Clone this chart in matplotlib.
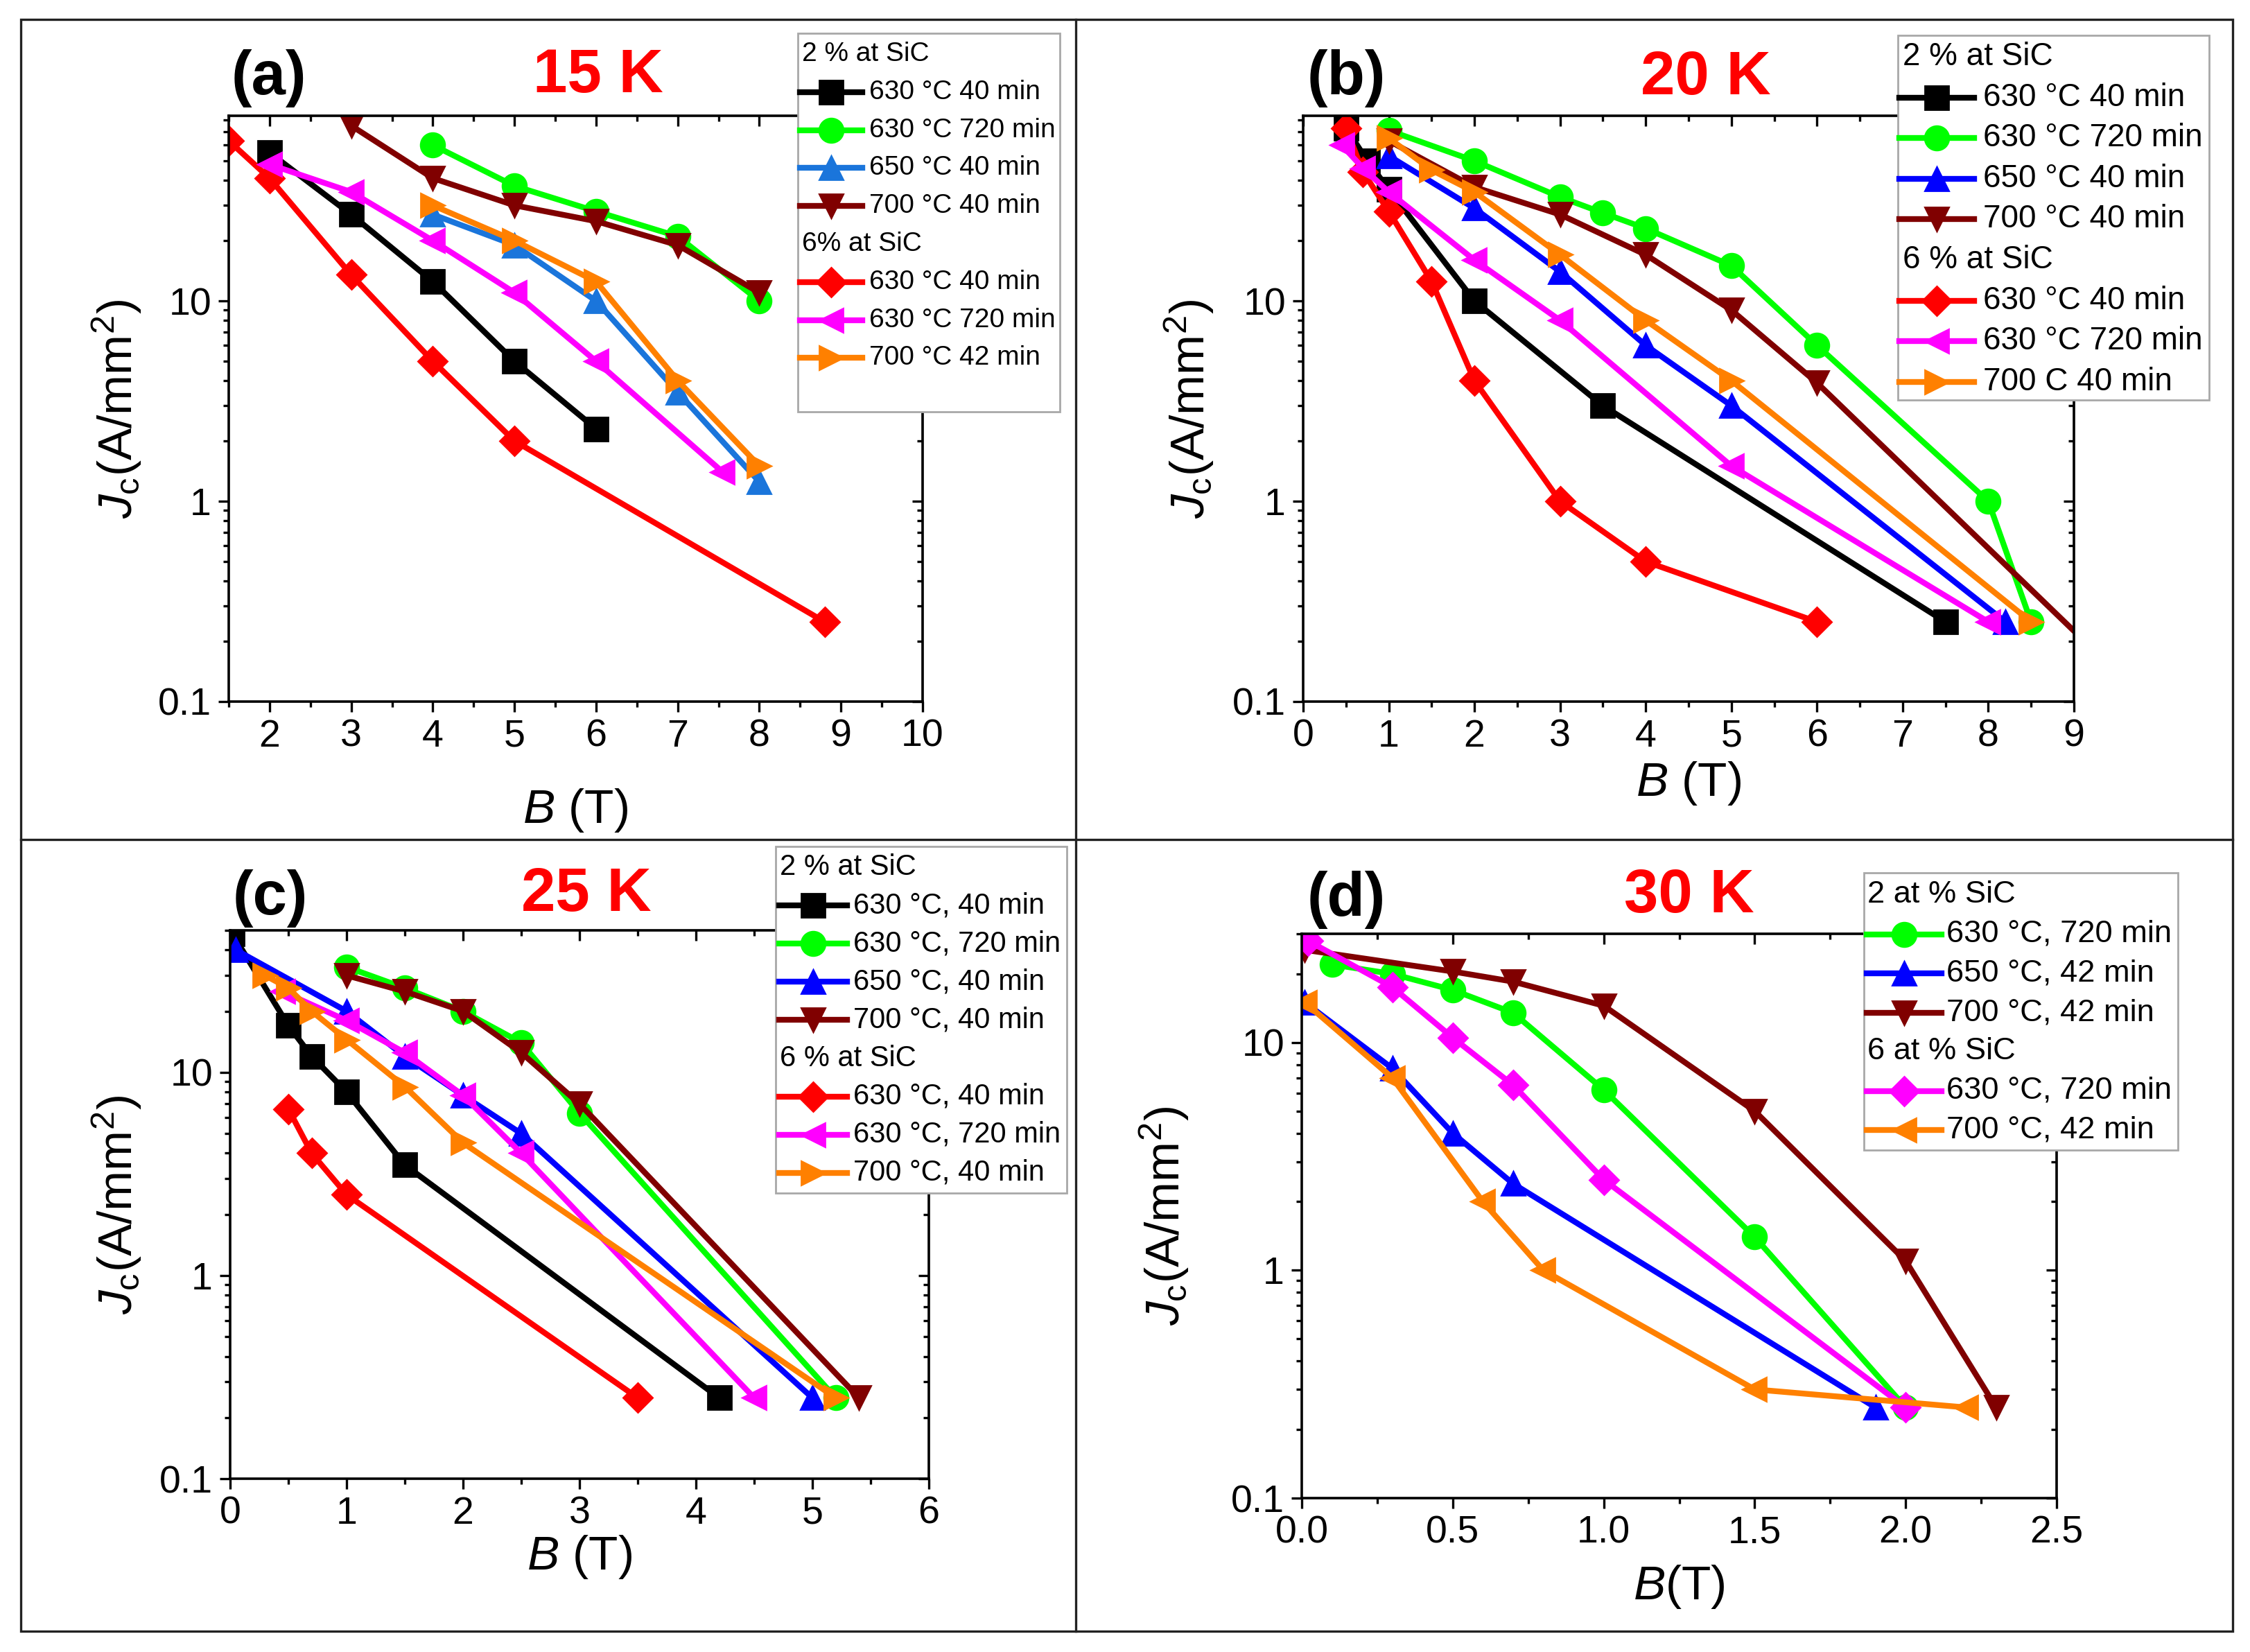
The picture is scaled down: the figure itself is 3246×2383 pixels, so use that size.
import matplotlib
matplotlib.use('Agg')
import matplotlib.pyplot as plt
from matplotlib.lines import Line2D
from matplotlib.patches import Rectangle
from matplotlib.ticker import MultipleLocator, LogLocator, FuncFormatter, NullFormatter

plt.rcParams['font.family'] = ['Liberation Sans', 'DejaVu Sans']
plt.rcParams['mathtext.fontset'] = 'custom'
plt.rcParams['mathtext.rm'] = 'Liberation Sans'
plt.rcParams['mathtext.it'] = 'Liberation Sans:italic'
plt.rcParams['mathtext.bf'] = 'Liberation Sans:bold'

# ---------------- data: Jc (A/mm^2) versus B (T) ----------------
# (a) 15 K
a_630_40_B = [2, 3, 4, 5, 6]
a_630_40_J = [55, 27, 12.5, 5, 2.3]
a_630_720_B = [4, 5, 6, 7, 8]
a_630_720_J = [60, 37.5, 28, 21, 10]
a_650_40_B = [4, 5, 6, 7, 8]
a_650_40_J = [27, 19, 10, 3.5, 1.25]
a_700_40_B = [3, 4, 5, 6, 7, 8]
a_700_40_J = [75, 41, 30, 25, 19, 11]
a6_630_40_B = [1.5, 2, 3, 4, 5, 8.8]
a6_630_40_J = [63, 41, 13.5, 5, 2, 0.25]
a6_630_720_B = [2, 3, 4, 5, 6, 7.55]
a6_630_720_J = [48, 35, 20, 11, 5, 1.4]
a6_700_42_B = [4, 5, 6, 7, 8]
a6_700_42_J = [30, 20, 12.5, 4, 1.5]

# (b) 20 K
b_630_40_B = [0.5, 0.75, 1, 2, 3.5, 7.5]
b_630_40_J = [73, 50, 36, 10, 3, 0.25]
b_630_720_B = [1, 2, 3, 3.5, 4, 5, 6, 8, 8.5]
b_630_720_J = [71, 50, 33, 27.5, 23, 15, 6, 1, 0.25]
b_650_40_B = [1, 2, 3, 4, 5, 8.2]
b_650_40_J = [53, 29, 14, 6, 3, 0.25]
b_700_40_B = [1, 2, 3, 4, 5, 6, 9.5]
b_700_40_J = [63, 37, 27, 17, 9, 3.9, 0.14]
b6_630_40_B = [0.5, 0.7, 1, 1.5, 2, 3, 4, 6]
b6_630_40_J = [73, 44, 28, 12.5, 4, 1, 0.5, 0.25]
b6_630_720_B = [0.45, 0.7, 1, 2, 3, 5, 8]
b6_630_720_J = [60, 46, 35, 16, 8, 1.5, 0.25]
b6_700_40_B = [1, 1.5, 2, 3, 4, 5, 8.5]
b6_700_40_J = [65, 45, 35, 17, 8, 4, 0.25]

# (c) 25 K
c_630_40_B = [0.02, 0.5, 0.7, 1, 1.5, 4.2]
c_630_40_J = [48, 17, 12, 8, 3.5, 0.25]
c_630_720_B = [1, 1.5, 2, 2.5, 3, 5.2]
c_630_720_J = [33, 26, 20, 14, 6.3, 0.25]
c_650_40_B = [0.05, 1, 1.5, 2, 2.5, 5]
c_650_40_J = [40, 20, 12, 7.7, 5, 0.25]
c_700_40_B = [1, 1.5, 2, 2.5, 3, 5.4]
c_700_40_J = [30, 25, 20, 12.5, 7, 0.25]
c6_630_40_B = [0.5, 0.7, 1, 3.5]
c6_630_40_J = [6.6, 4, 2.5, 0.25]
c6_630_720_B = [0.45, 1, 1.5, 2, 2.5, 4.5]
c6_630_720_J = [25, 18, 12.5, 7.7, 4, 0.25]
c6_700_40_B = [0.3, 0.5, 0.7, 1, 1.5, 2, 5.2]
c6_700_40_J = [30, 26, 20, 14.5, 8.5, 4.5, 0.25]

# (d) 30 K
d_630_720_B = [0.1, 0.3, 0.5, 0.7, 1.0, 1.5, 2.0]
d_630_720_J = [22, 20, 17, 13.5, 6.2, 1.4, 0.25]
d_650_42_B = [0.01, 0.3, 0.5, 0.7, 1.9]
d_650_42_J = [15, 7.7, 4, 2.4, 0.25]
d_700_42_B = [0.01, 0.5, 0.7, 1.0, 1.5, 2.0, 2.3]
d_700_42_J = [25.5, 20.5, 18.5, 14.5, 5, 1.1, 0.25]
d6_630_720_B = [0.02, 0.3, 0.5, 0.7, 1.0, 2.0]
d6_630_720_J = [28, 17.5, 10.5, 6.5, 2.5, 0.25]
d6_700_42_B = [0.01, 0.3, 0.6, 0.8, 1.5, 2.2]
d6_700_42_J = [15, 7, 2, 1, 0.3, 0.25]

BLACK, GREEN, BLUE, WINE = 'black', '#00FF00', '#0000FF', '#800000'
RED, MAGENTA, ORANGE = '#FF0000', '#FF00FF', '#FF8000'
BLUE_A = '#1A75DB'

# series: (label, B, J, color, marker)
panel_a = [('630 °C 40 min', a_630_40_B, a_630_40_J, BLACK, 's'),
           ('630 °C 720 min', a_630_720_B, a_630_720_J, GREEN, 'o'),
           ('650 °C 40 min', a_650_40_B, a_650_40_J, BLUE_A, '^'),
           ('700 °C 40 min', a_700_40_B, a_700_40_J, WINE, 'v'),
           ('630 °C 40 min', a6_630_40_B, a6_630_40_J, RED, 'D'),
           ('630 °C 720 min', a6_630_720_B, a6_630_720_J, MAGENTA, '<'),
           ('700 °C 42 min', a6_700_42_B, a6_700_42_J, ORANGE, '>')]
panel_b = [('630 °C 40 min', b_630_40_B, b_630_40_J, BLACK, 's'),
           ('630 °C 720 min', b_630_720_B, b_630_720_J, GREEN, 'o'),
           ('650 °C 40 min', b_650_40_B, b_650_40_J, BLUE, '^'),
           ('700 °C 40 min', b_700_40_B, b_700_40_J, WINE, 'v'),
           ('630 °C 40 min', b6_630_40_B, b6_630_40_J, RED, 'D'),
           ('630 °C 720 min', b6_630_720_B, b6_630_720_J, MAGENTA, '<'),
           ('700 C 40 min', b6_700_40_B, b6_700_40_J, ORANGE, '>')]
panel_c = [('630 °C, 40 min', c_630_40_B, c_630_40_J, BLACK, 's'),
           ('630 °C, 720 min', c_630_720_B, c_630_720_J, GREEN, 'o'),
           ('650 °C, 40 min', c_650_40_B, c_650_40_J, BLUE, '^'),
           ('700 °C, 40 min', c_700_40_B, c_700_40_J, WINE, 'v'),
           ('630 °C, 40 min', c6_630_40_B, c6_630_40_J, RED, 'D'),
           ('630 °C, 720 min', c6_630_720_B, c6_630_720_J, MAGENTA, '<'),
           ('700 °C, 40 min', c6_700_40_B, c6_700_40_J, ORANGE, '>')]
panel_d = [('630 °C, 720 min', d_630_720_B, d_630_720_J, GREEN, 'o'),
           ('650 °C, 42 min', d_650_42_B, d_650_42_J, BLUE, '^'),
           ('700 °C, 42 min', d_700_42_B, d_700_42_J, WINE, 'v'),
           ('630 °C, 720 min', d6_630_720_B, d6_630_720_J, MAGENTA, 'D'),
           ('700 °C, 42 min', d6_700_42_B, d6_700_42_J, ORANGE, '<')]

W, H, DPI = 3246, 2383, 200
fig = plt.figure(figsize=(W / DPI, H / DPI), dpi=DPI)


def fx(px):
    return px / W


def fy(py):
    return 1 - py / H


def msize(m):
    return 10.5 if m == 'D' else 12.5


def make_axes(box, series, xlim, ylim, xmaj, xmin, xfmt, xlabel, ylab_x, xlab_y):
    l, t, r, b = box
    ax = fig.add_axes([fx(l), fy(b), fx(r) - fx(l), fy(t) - fy(b)])
    for lab, xs, ys, col, mk in series:
        ax.plot(xs, ys, color=col, lw=3, marker=mk, ms=msize(mk), mec=col, mfc=col)
    ax.set_yscale('log')
    ax.set_xlim(*xlim)
    ax.set_ylim(*ylim)
    ax.xaxis.set_major_locator(MultipleLocator(xmaj))
    ax.xaxis.set_minor_locator(MultipleLocator(xmin))
    ax.xaxis.set_major_formatter(FuncFormatter(lambda v, p: xfmt.format(v)))
    ax.yaxis.set_major_locator(LogLocator(base=10))
    ax.yaxis.set_minor_locator(LogLocator(base=10, subs=range(2, 10)))
    ax.yaxis.set_major_formatter(FuncFormatter(lambda v, p: '{:g}'.format(v)))
    ax.yaxis.set_minor_formatter(NullFormatter())
    ax.tick_params(which='both', direction='out', width=1.2, labelsize=20)
    ax.tick_params(which='major', length=5.5)
    ax.tick_params(which='minor', length=3)
    for s in ax.spines.values():
        s.set_linewidth(1.3)
    top = ax.secondary_xaxis('top')
    top.xaxis.set_major_locator(MultipleLocator(xmaj))
    top.xaxis.set_minor_locator(MultipleLocator(xmin))
    top.tick_params(which='both', direction='in', width=1.2, labeltop=False)
    top.tick_params(which='major', length=5.5)
    top.tick_params(which='minor', length=3)
    right = ax.secondary_yaxis('right')
    right.yaxis.set_major_locator(LogLocator(base=10))
    right.yaxis.set_minor_locator(LogLocator(base=10, subs=range(2, 10)))
    right.tick_params(which='both', direction='in', width=1.2, labelright=False)
    right.tick_params(which='major', length=5.5)
    right.tick_params(which='minor', length=3)
    ax.set_xlabel(xlabel, fontsize=25)
    ax.set_ylabel(r'$J_{\rm c}$(A/mm$^2$)', fontsize=25)
    ax.yaxis.set_label_coords(ylab_x, 0.5)
    ax.xaxis.set_label_coords(0.5, xlab_y)
    return ax


def legend_box(box, rows, y0, step, hx0, hx1, tx, hdx, fs):
    x0, y_top, x1, y_bot = box
    fig.add_artist(Rectangle((fx(x0), fy(y_bot)), fx(x1) - fx(x0), fy(y_top) - fy(y_bot),
                             transform=fig.transFigure, facecolor='white',
                             edgecolor='#A8A8A8', lw=1.0, zorder=5))
    for i, row in enumerate(rows):
        yy = fy(y0 + i * step)
        if isinstance(row, str):
            fig.text(fx(hdx), yy, row, fontsize=fs, ha='left', va='center', zorder=6)
            continue
        lab, xs, ys, col, mk = row
        fig.add_artist(Line2D([fx(hx0), fx(hx1)], [yy, yy], transform=fig.transFigure,
                              color=col, lw=3, zorder=6))
        fig.add_artist(Line2D([fx((hx0 + hx1) / 2)], [yy], transform=fig.transFigure,
                              color=col, marker=mk, ms=msize(mk), mec=col, mfc=col, zorder=7))
        fig.text(fx(tx), yy, lab, fontsize=fs, ha='left', va='center', zorder=6)


make_axes((330, 167, 1331, 1012), panel_a, (1.5, 10), (0.1, 84), 1, 0.5, '{:g}',
          r'$B$ (T)', -0.123, -0.145)
make_axes((1880, 167, 2992, 1012), panel_b, (0, 9), (0.1, 84), 1, 0.5, '{:g}',
          r'$B$ (T)', -0.113, -0.1)
make_axes((332, 1342, 1340, 2133), panel_c, (0, 6), (0.1, 50), 1, 0.5, '{:g}',
          r'$B$ (T)', -0.124, -0.1)
make_axes((1878, 1347, 2967, 2161), panel_d, (0, 2.5), (0.1, 30), 0.5, 0.25, '{:.1f}',
          r'$B$(T)', -0.147, -0.115)

legend_box((1151, 48, 1529, 594),
           ['2 % at SiC'] + panel_a[:4] + ['6% at SiC'] + panel_a[4:],
           78, 54.8, 1154, 1244, 1254, 1157, 14)
legend_box((2738, 51, 3187, 577),
           ['2 % at SiC'] + panel_b[:4] + ['6 % at SiC'] + panel_b[4:],
           82, 58.6, 2740, 2848, 2861, 2745, 16.5)
legend_box((1119, 1221, 1539, 1721),
           ['2 % at SiC'] + panel_c[:4] + ['6 % at SiC'] + panel_c[4:],
           1251, 55.1, 1124, 1222, 1231, 1125, 15)
legend_box((2689, 1259, 3142, 1659),
           ['2 at % SiC'] + panel_d[:3] + ['6 at % SiC'] + panel_d[3:],
           1291, 56.5, 2693, 2801, 2808, 2694, 16.3)

# panel tags and temperatures
for tag, tpos, temp, kpos in [('(a)', (388, 113), '15 K', (863, 110)),
                              ('(b)', (1942, 113), '20 K', (2461, 113)),
                              ('(c)', (390, 1296), '25 K', (846, 1291)),
                              ('(d)', (1942, 1298), '30 K', (2437, 1293))]:
    fig.text(fx(tpos[0]), fy(tpos[1]), tag, fontsize=32, fontweight='bold',
             ha='center', va='center')
    fig.text(fx(kpos[0]), fy(kpos[1]), temp, fontsize=32, fontweight='bold',
             color='#FF0000', ha='center', va='center')

# outer frame and dividers
fig.add_artist(Rectangle((fx(30), fy(2353)), fx(3221) - fx(30), fy(28) - fy(2353),
                         transform=fig.transFigure, fill=False, lw=1.2, ec='#222222'))
fig.add_artist(Line2D([fx(1552), fx(1552)], [fy(28), fy(2353)], transform=fig.transFigure,
                      lw=1.2, color='#222222'))
fig.add_artist(Line2D([fx(30), fx(3221)], [fy(1211), fy(1211)], transform=fig.transFigure,
                      lw=1.2, color='#222222'))

fig.savefig('out.png', dpi=DPI)
